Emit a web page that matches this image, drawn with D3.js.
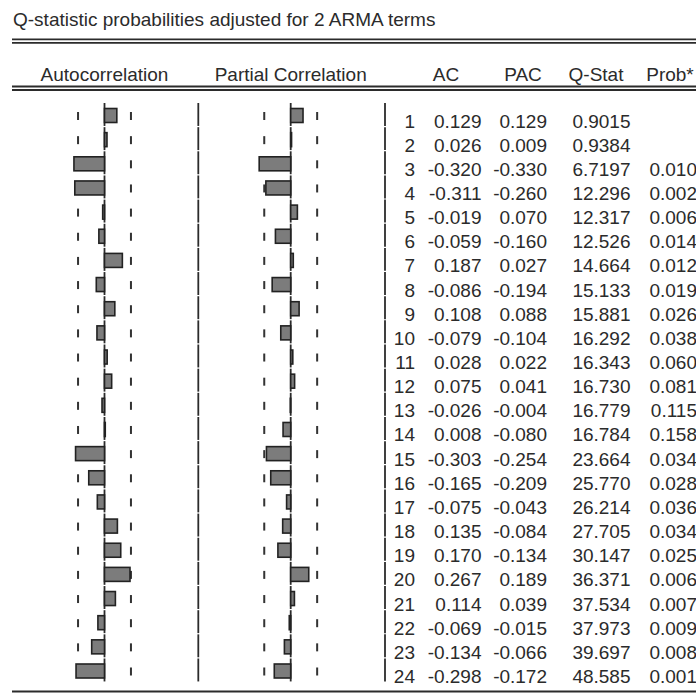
<!DOCTYPE html>
<html>
<head>
<meta charset="utf-8">
<script src="https://cdn.jsdelivr.net/npm/d3@7"></script>
<style>
  html, body { margin: 0; padding: 0; background: #fff; }
  svg { display: block; }
  text { font-family: "Liberation Sans", Arial, sans-serif; fill: #2b2b2b; }
</style>
</head>
<body>
<svg id="chart" width="696" height="693"></svg>
<script>
// Correlogram of residuals: 24 lags
const lags = d3.range(1, 25);
const acValues = [0.129, 0.026, -0.320, -0.311, -0.019, -0.059, 0.187, -0.086, 0.108, -0.079, 0.028, 0.075,
                  -0.026, 0.008, -0.303, -0.165, -0.075, 0.135, 0.170, 0.267, 0.114, -0.069, -0.134, -0.298];
const pacValues = [0.129, 0.009, -0.330, -0.260, 0.070, -0.160, 0.027, -0.194, 0.088, -0.104, 0.022, 0.041,
                   -0.004, -0.080, -0.254, -0.209, -0.043, -0.084, -0.134, 0.189, 0.039, -0.015, -0.066, -0.172];
const qStat = [0.9015, 0.9384, 6.7197, 12.296, 12.317, 12.526, 14.664, 15.133, 15.881, 16.292, 16.343, 16.730,
               16.779, 16.784, 23.664, 25.770, 26.214, 27.705, 30.147, 36.371, 37.534, 37.973, 39.697, 48.585];
const probValues = [null, null, 0.010, 0.002, 0.006, 0.014, 0.012, 0.019, 0.026, 0.038, 0.060, 0.081,
                    0.115, 0.158, 0.034, 0.028, 0.036, 0.034, 0.025, 0.006, 0.007, 0.009, 0.008, 0.001];
// approximate two standard error band, 2/sqrt(52)
const bandLimit = 0.277;

const titleText = "Q-statistic probabilities adjusted for 2 ARMA terms";
const panelTitles = ["Autocorrelation", "Partial Correlation"];
const columnTitles = ["AC", "PAC", "Q-Stat", "Prob*"];

const svg = d3.select("#chart");
const FONT = 19;
const INK = "#2b2b2b";

// horizontal scales for the two bar panels (value -> pixel)
const unit = 95.5;
const acX = d3.scaleLinear().domain([-1, 1]).range([104.5 - unit, 104.5 + unit]);
const pacX = d3.scaleLinear().domain([-1, 1]).range([290.7 - unit, 290.7 + unit]);
// row top for each lag
const rowTop = d3.scaleLinear().domain([1, 24]).range([103, 658.5]);
const rowH = 24.15;

// title and rules
svg.append("text").attr("x", 13).attr("y", 26).attr("font-size", FONT).text(titleText);

function hline(y, w) {
  svg.append("line").attr("x1", 12).attr("x2", 696).attr("y1", y).attr("y2", y)
    .attr("stroke", INK).attr("stroke-width", w);
}
hline(39.3, 1.8); hline(42.8, 1.8);
hline(86.5, 1.8); hline(90, 1.8);
hline(691.5, 2);

// header row
svg.append("text").attr("x", acX(0)).attr("y", 81).attr("text-anchor", "middle")
  .attr("font-size", FONT).text(panelTitles[0]);
svg.append("text").attr("x", pacX(0)).attr("y", 81).attr("text-anchor", "middle")
  .attr("font-size", FONT).text(panelTitles[1]);
const headerCenters = [446, 523, 596, 670];
columnTitles.forEach((t, i) => {
  svg.append("text").attr("x", headerCenters[i]).attr("y", 81).attr("text-anchor", "middle")
    .attr("font-size", FONT).text(t);
});

// vertical rules drawn as one segment per row
const verticals = [acX(0), 198.3, pacX(0), 385];
const seg = svg.append("g");
verticals.forEach(x => {
  seg.selectAll(null).data(lags).join("line")
    .attr("x1", x).attr("x2", x)
    .attr("y1", d => rowTop(d)).attr("y2", d => rowTop(d) + rowH - 1.2)
    .attr("stroke", INK).attr("stroke-width", 1.8);
});

// +/- two standard error marks
[acX, pacX].forEach(sc => {
  [-bandLimit, bandLimit].forEach(b => {
    svg.append("g").selectAll("rect").data(lags).join("rect")
      .attr("x", sc(b) - 1).attr("width", 2)
      .attr("y", d => rowTop(d) + 9).attr("height", 8)
      .attr("fill", "#333");
  });
});

// bars
function drawBars(values, sc) {
  svg.append("g").selectAll("rect").data(values).join("rect")
    .attr("x", d => Math.min(sc(0), sc(d)))
    .attr("width", d => Math.abs(sc(d) - sc(0)))
    .attr("y", (d, i) => rowTop(lags[i]) + 5.5)
    .attr("height", 14)
    .attr("fill", "#7c7c7c")
    .attr("stroke", "#222")
    .attr("stroke-width", 1.6);
}
drawBars(acValues, acX);
drawBars(pacValues, pacX);

// numeric table
const fmt3 = v => v.toFixed(3);
const fmtQ = v => v < 10 ? v.toFixed(4) : v.toFixed(3);
const columns = [
  { x: 415, values: lags, f: d => String(d) },
  { x: 481.5, values: acValues, f: fmt3 },
  { x: 547, values: pacValues, f: fmt3 },
  { x: 630.5, values: qStat, f: fmtQ },
  { x: 697, values: probValues, f: d => d == null ? "" : fmt3(d) }
];
columns.forEach(col => {
  svg.append("g").selectAll("text").data(col.values).join("text")
    .attr("x", col.x)
    .attr("y", (d, i) => rowTop(lags[i]) + 24.5)
    .attr("text-anchor", "end")
    .attr("font-size", FONT)
    .text(col.f);
});
</script>
</body>
</html>
